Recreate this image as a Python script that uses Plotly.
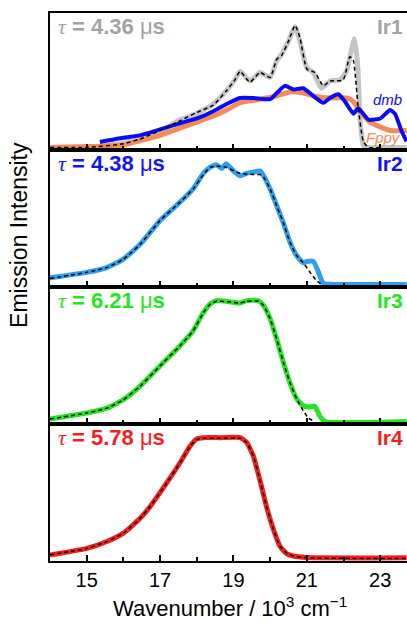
import plotly.graph_objects as go
from plotly.subplots import make_subplots

# ---- Ir1: experimental spectra and fit ----
ir1_x = [14.0, 15.0, 16.0, 16.45, 17.0, 17.54, 18.0, 18.45, 18.81, 19.04, 19.18, 19.45, 19.72, 20.0,
         20.18, 20.31, 20.5, 20.68, 20.81, 21.0, 21.18, 21.4, 21.63, 21.9, 22.08, 22.21, 22.3, 22.39,
         22.45, 22.54, 22.63, 23.0, 23.72]
ir1_y = [0.0, 0.0, 0.035, 0.08, 0.13, 0.23, 0.28, 0.36, 0.47, 0.56, 0.63, 0.55, 0.62, 0.58,
         0.72, 0.77, 0.88, 1.0, 0.88, 0.66, 0.62, 0.49, 0.55, 0.56, 0.63, 0.80, 0.90, 0.66,
         0.24, 0.02, 0.0, 0.0, 0.0]
ir1_fit_x = [14.0, 15.0, 16.0, 16.45, 17.0, 17.54, 18.0, 18.45, 18.81, 19.04, 19.18, 19.45, 19.72,
             20.0, 20.18, 20.31, 20.5, 20.68, 20.81, 21.0, 21.22, 21.45, 21.63, 21.99, 22.17, 22.26,
             22.4, 22.54, 22.68, 23.0]
ir1_fit_y = [0.0, 0.0, 0.03, 0.07, 0.14, 0.22, 0.29, 0.35, 0.47, 0.56, 0.63, 0.54, 0.62, 0.58,
             0.73, 0.76, 0.88, 1.01, 0.91, 0.65, 0.62, 0.51, 0.55, 0.56, 0.75, 0.73,
             0.33, 0.05, 0.0, 0.0]

fppy_x = [14.0, 16.0, 16.45, 17.0, 17.54, 18.0, 18.45, 18.81, 19.18, 19.54, 20.09, 20.54, 20.9,
          21.27, 21.63, 22.08, 22.27, 22.45, 22.72, 23.0, 23.27, 23.72]
fppy_y = [0.0, 0.02, 0.055, 0.10, 0.16, 0.21, 0.26, 0.31, 0.37, 0.39, 0.42, 0.46, 0.45,
          0.42, 0.41, 0.41, 0.38, 0.30, 0.21, 0.17, 0.14, 0.14]

dmb_x = [15.36, 16.0, 16.45, 17.0, 17.54, 18.0, 18.45, 18.81, 19.18, 19.54, 20.0, 20.18, 20.4,
         20.63, 20.9, 21.18, 21.45, 21.63, 21.86, 22.04, 22.27, 22.4, 22.68, 23.0, 23.27, 23.4,
         23.59, 23.72]
dmb_y = [0.045, 0.08, 0.10, 0.15, 0.20, 0.24, 0.30, 0.36, 0.41, 0.41, 0.40, 0.45, 0.51,
         0.48, 0.49, 0.425, 0.37, 0.41, 0.44, 0.38, 0.28, 0.325, 0.23, 0.24, 0.31, 0.28,
         0.13, 0.05]

# ---- Ir2 ----
ir2_x = [14.0, 15.0, 15.55, 16.0, 16.45, 17.0, 17.54, 17.9, 18.18, 18.36, 18.54, 18.68, 18.8,
         19.0, 19.18, 19.36, 19.54, 19.72, 19.82, 20.0, 20.18, 20.36, 20.54, 20.72, 20.9, 21.0,
         21.18, 21.32, 21.45, 22.0, 23.72]
ir2_y = [0.055, 0.10, 0.14, 0.21, 0.33, 0.53, 0.68, 0.79, 0.92, 0.97, 0.99, 0.96, 1.0,
         0.94, 0.90, 0.92, 0.93, 0.94, 0.90, 0.79, 0.65, 0.51, 0.35, 0.24, 0.18, 0.19,
         0.19, 0.10, 0.01, 0.0, 0.0]
ir2_fit_x = [14.0, 15.0, 15.55, 16.0, 16.45, 17.0, 17.54, 17.9, 18.18, 18.36, 18.54, 18.8, 19.18,
             19.54, 19.72, 19.82, 20.0, 20.18, 20.36, 20.54, 20.72, 20.9, 21.09, 21.27, 21.4]
ir2_fit_y = [0.05, 0.10, 0.14, 0.21, 0.33, 0.53, 0.68, 0.79, 0.91, 0.97, 0.98, 0.97, 0.92,
             0.91, 0.91, 0.89, 0.79, 0.65, 0.51, 0.35, 0.24, 0.18, 0.10, 0.03, 0.0]

# ---- Ir3 ----
ir3_x = [14.0, 15.0, 15.55, 16.0, 16.45, 17.0, 17.54, 17.9, 18.18, 18.36, 18.54, 18.9, 19.18,
         19.36, 19.68, 19.82, 20.0, 20.18, 20.36, 20.54, 20.72, 20.9, 21.04, 21.22, 21.36, 21.5,
         23.72]
ir3_y = [0.02, 0.07, 0.11, 0.18, 0.29, 0.46, 0.625, 0.75, 0.90, 0.97, 1.0, 0.99, 0.98,
         1.0, 1.0, 0.96, 0.85, 0.68, 0.49, 0.32, 0.19, 0.13, 0.12, 0.125, 0.04, 0.0,
         0.0]
ir3_fit_x = [14.0, 15.0, 15.55, 16.0, 16.45, 17.0, 17.54, 17.9, 18.18, 18.36, 18.54, 18.9, 19.18,
             19.36, 19.68, 19.82, 20.0, 20.18, 20.36, 20.54, 20.72, 20.9, 21.04, 21.2]
ir3_fit_y = [0.02, 0.07, 0.11, 0.18, 0.29, 0.46, 0.625, 0.75, 0.90, 0.97, 0.995, 0.99, 0.98,
             0.995, 0.995, 0.96, 0.85, 0.68, 0.49, 0.32, 0.19, 0.09, 0.03, 0.0]

# ---- Ir4 ----
ir4_x = [14.0, 15.0, 15.55, 16.0, 16.45, 16.73, 17.18, 17.54, 17.82, 18.0, 18.18, 18.63, 19.18,
         19.36, 19.54, 19.72, 19.9, 20.09, 20.27, 20.45, 20.63, 21.0, 23.72]
ir4_y = [0.028, 0.083, 0.14, 0.21, 0.33, 0.43, 0.625, 0.79, 0.93, 0.99, 1.0, 1.0, 1.0,
         0.96, 0.85, 0.65, 0.43, 0.24, 0.10, 0.04, 0.02, 0.008, 0.005]
ir4_fit_x = ir4_x
ir4_fit_y = [0.03, 0.083, 0.14, 0.21, 0.33, 0.43, 0.625, 0.79, 0.93, 0.985, 0.995, 0.995, 0.995,
             0.96, 0.85, 0.65, 0.43, 0.24, 0.10, 0.045, 0.02, 0.005, 0.0]

lifetimes = ["4.36", "4.38", "6.21", "5.78"]
names = ["Ir1", "Ir2", "Ir3", "Ir4"]
label_colors = ["#a3a3a3", "#1414f0", "#22e622", "#f51d1d"]
line_colors = ["#c4c4c4", "#2d9ef0", "#22e622", "#f51d1d"]

spectra = [(ir1_x, ir1_y), (ir2_x, ir2_y), (ir3_x, ir3_y), (ir4_x, ir4_y)]
fits = [(ir1_fit_x, ir1_fit_y), (ir2_fit_x, ir2_fit_y), (ir3_fit_x, ir3_fit_y), (ir4_fit_x, ir4_fit_y)]

FONT = "Liberation Sans, Arial, sans-serif"
X_RANGE = [14.0, 23.73]
Y_RANGE = [-0.021, 1.113]

fig = make_subplots(rows=4, cols=1, shared_xaxes=True, vertical_spacing=0)

spline = dict(shape="spline", smoothing=0.5)

for i in range(4):
    row = i + 1
    sx, sy = spectra[i]
    fig.add_trace(go.Scatter(x=sx, y=sy, mode="lines",
                             line=dict(color=line_colors[i], width=5, **spline),
                             showlegend=False), row=row, col=1)
    if i == 0:
        fig.add_trace(go.Scatter(x=fppy_x, y=fppy_y, mode="lines",
                                 line=dict(color="#f58a55", width=5, **spline),
                                 showlegend=False), row=1, col=1)
        fig.add_trace(go.Scatter(x=dmb_x, y=dmb_y, mode="lines",
                                 line=dict(color="#0a0af5", width=4, **spline),
                                 showlegend=False), row=1, col=1)
    fx, fy = fits[i]
    fig.add_trace(go.Scatter(x=fx, y=fy, mode="lines",
                             line=dict(color="black", width=1.5, dash="4px,3px", **spline),
                             showlegend=False), row=row, col=1)

    xa = "x" if i == 0 else f"x{row}"
    ya = "y" if i == 0 else f"y{row}"
    fig.add_annotation(
        xref=f"{xa} domain", yref=f"{ya} domain",
        x=0.018, y=0.9, xanchor="left", yanchor="middle", showarrow=False,
        text=f"<span style='font-family:Liberation Serif'><i>τ</i></span><b> = {lifetimes[i]} </b>μ<b>s</b>",
        font=dict(family=FONT, size=22, color=label_colors[i]))
    fig.add_annotation(
        xref=f"{xa} domain", yref=f"{ya} domain",
        x=0.995, y=0.9, xanchor="right", yanchor="middle", showarrow=False,
        text=f"<b>{names[i]}</b>",
        font=dict(family=FONT, size=21, color=label_colors[i]))

    fig.update_xaxes(range=X_RANGE, showline=True, linewidth=2, linecolor="black",
                     mirror=True, ticks="inside", ticklen=6, tickwidth=1.5, tickcolor="black",
                     tick0=15, dtick=2, showgrid=False, zeroline=False,
                     minor=dict(ticks="inside", ticklen=4, tickwidth=1.5, tickcolor="black",
                                tick0=14, dtick=1, showgrid=False),
                     showticklabels=(row == 4), row=row, col=1)
    fig.update_yaxes(range=Y_RANGE, showline=True, linewidth=2, linecolor="black",
                     mirror=False, showticklabels=False, ticks="", showgrid=False,
                     zeroline=False, row=row, col=1)

fig.add_annotation(xref="x", yref="y", x=23.2, y=0.40, showarrow=False,
                   text="<i>dmb</i>", font=dict(family=FONT, size=15, color="#0a0af5"))
fig.add_annotation(xref="x", yref="y", x=23.1, y=0.085, showarrow=False,
                   text="<i>Fppy</i>", font=dict(family=FONT, size=15, color="#f58a55"))

fig.update_xaxes(tickfont=dict(family=FONT, size=20, color="black"), row=4, col=1)

# axis titles
fig.add_annotation(xref="paper", yref="paper", x=0.505, y=-0.084,
                   xanchor="center", yanchor="middle", showarrow=False,
                   text="Wavenumber / 10<sup>3</sup> cm<sup>−1</sup>",
                   font=dict(family=FONT, size=22, color="black"))
fig.add_annotation(xref="paper", yref="paper", x=-0.087, y=0.595, textangle=-90,
                   xanchor="center", yanchor="middle", showarrow=False,
                   text="Emission Intensity", font=dict(family=FONT, size=23, color="black"))

fig.update_layout(width=407, height=624, margin=dict(l=50, r=0, t=13, b=63),
                  plot_bgcolor="white", paper_bgcolor="white",
                  font=dict(family=FONT, color="black"))

fig.write_html("out.html")
